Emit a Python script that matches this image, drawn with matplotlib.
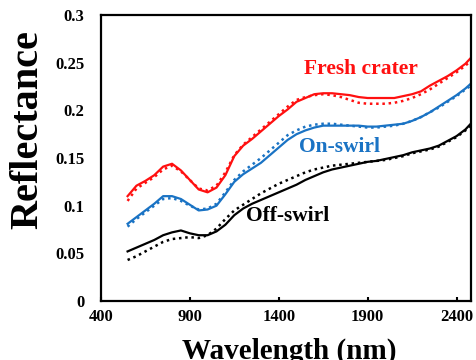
import matplotlib
matplotlib.use("Agg")
import matplotlib.pyplot as plt

# ---- data -----------------------------------------------------------------
wavelength = [550, 600, 650, 700, 750, 800, 850, 900, 950, 1000, 1050, 1100,
              1150, 1200, 1250, 1300, 1350, 1400, 1450, 1500, 1550, 1600,
              1650, 1700, 1750, 1800, 1850, 1900, 1950, 2000, 2050, 2100,
              2150, 2200, 2250, 2300, 2350, 2400, 2450, 2480]

fresh_solid = [0.110, 0.121, 0.126, 0.132, 0.141, 0.144, 0.137, 0.127, 0.117,
               0.114, 0.119, 0.132, 0.152, 0.163, 0.170, 0.178, 0.186, 0.194,
               0.201, 0.209, 0.213, 0.217, 0.218, 0.218, 0.217, 0.216, 0.214,
               0.213, 0.213, 0.213, 0.213, 0.215, 0.217, 0.220, 0.226, 0.231,
               0.236, 0.242, 0.249, 0.255]
fresh_dot = [0.105, 0.118, 0.124, 0.130, 0.138, 0.142, 0.136, 0.127, 0.118,
             0.116, 0.121, 0.135, 0.153, 0.164, 0.172, 0.180, 0.188, 0.196,
             0.204, 0.211, 0.214, 0.216, 0.217, 0.216, 0.214, 0.211, 0.208,
             0.207, 0.207, 0.207, 0.208, 0.210, 0.213, 0.217, 0.222, 0.228,
             0.234, 0.240, 0.247, 0.252]

on_solid = [0.081, 0.088, 0.095, 0.102, 0.110, 0.110, 0.107, 0.101, 0.095,
            0.096, 0.100, 0.112, 0.125, 0.133, 0.139, 0.145, 0.153, 0.161,
            0.169, 0.175, 0.179, 0.182, 0.184, 0.184, 0.184, 0.184, 0.184,
            0.183, 0.183, 0.184, 0.185, 0.186, 0.189, 0.193, 0.198, 0.204,
            0.210, 0.216, 0.223, 0.228]
on_dot = [0.078, 0.086, 0.093, 0.100, 0.107, 0.108, 0.105, 0.100, 0.096,
          0.097, 0.102, 0.114, 0.127, 0.136, 0.143, 0.150, 0.158, 0.166,
          0.174, 0.179, 0.183, 0.185, 0.186, 0.186, 0.185, 0.184, 0.183,
          0.182, 0.182, 0.183, 0.184, 0.186, 0.189, 0.193, 0.198, 0.203,
          0.209, 0.215, 0.222, 0.226]

off_solid = [0.052, 0.056, 0.060, 0.064, 0.069, 0.072, 0.074, 0.071, 0.069,
             0.069, 0.073, 0.080, 0.090, 0.097, 0.102, 0.106, 0.110, 0.114,
             0.118, 0.122, 0.127, 0.131, 0.135, 0.138, 0.140, 0.142, 0.144,
             0.146, 0.147, 0.149, 0.151, 0.153, 0.156, 0.158, 0.160, 0.163,
             0.168, 0.173, 0.180, 0.186]
off_dot = [0.043, 0.047, 0.052, 0.057, 0.062, 0.065, 0.066, 0.067, 0.066,
           0.069, 0.076, 0.086, 0.095, 0.101, 0.107, 0.113, 0.118, 0.123,
           0.127, 0.131, 0.135, 0.138, 0.140, 0.142, 0.143, 0.144, 0.145,
           0.146, 0.147, 0.148, 0.150, 0.152, 0.155, 0.157, 0.159, 0.162,
           0.167, 0.172, 0.179, 0.184]

x_ticks = [400, 900, 1400, 1900, 2400]
y_ticks = [0, 0.05, 0.1, 0.15, 0.2, 0.25, 0.3]
y_ticklabels = ["0", "0.05", "0.1", "0.15", "0.2", "0.25", "0.3"]

RED = "#FF1010"
BLUE = "#1A73C4"
BLACK = "#000000"

plt.rcParams["font.family"] = ["Liberation Serif", "DejaVu Serif"]
plt.rcParams["font.weight"] = "bold"

fig = plt.figure(figsize=(4.76, 3.6), dpi=100)
ax = fig.add_axes([0.212, 0.164, 0.777, 0.794])

for solid, dot, col in [(fresh_solid, fresh_dot, RED),
                        (on_solid, on_dot, BLUE),
                        (off_solid, off_dot, BLACK)]:
    ax.plot(wavelength, solid, color=col, lw=1.6)
    ax.plot(wavelength, dot, color=col, lw=1.8, ls=(0, (1, 1.5)))

ax.set_xlim(400, 2480)
ax.set_ylim(0, 0.3)
ax.set_xticks(x_ticks)
ax.set_yticks(y_ticks)
ax.set_yticklabels(y_ticklabels)
ax.tick_params(direction="in", length=3, width=1.5, labelsize=12, pad=6)
ax.tick_params(axis="y", length=0, pad=12)
for s in ax.spines.values():
    s.set_linewidth(1.6)

ax.text(1865, 0.243, "Fresh crater", color=RED, fontsize=15.5, ha="center",
        va="center", weight="bold")
ax.text(1740, 0.162, "On-swirl", color=BLUE, fontsize=15.5, ha="center",
        va="center", weight="bold")
ax.text(1450, 0.089, "Off-swirl", color=BLACK, fontsize=15.5, ha="center",
        va="center", weight="bold")

fig.text(0.059, 0.64, "Reflectance", rotation=90, fontsize=29, ha="center",
         va="center", weight="bold")
fig.text(0.607, 0.025, "Wavelength (nm)", fontsize=21, ha="center",
         va="center", weight="bold")

fig.savefig("out.png", dpi=100)
